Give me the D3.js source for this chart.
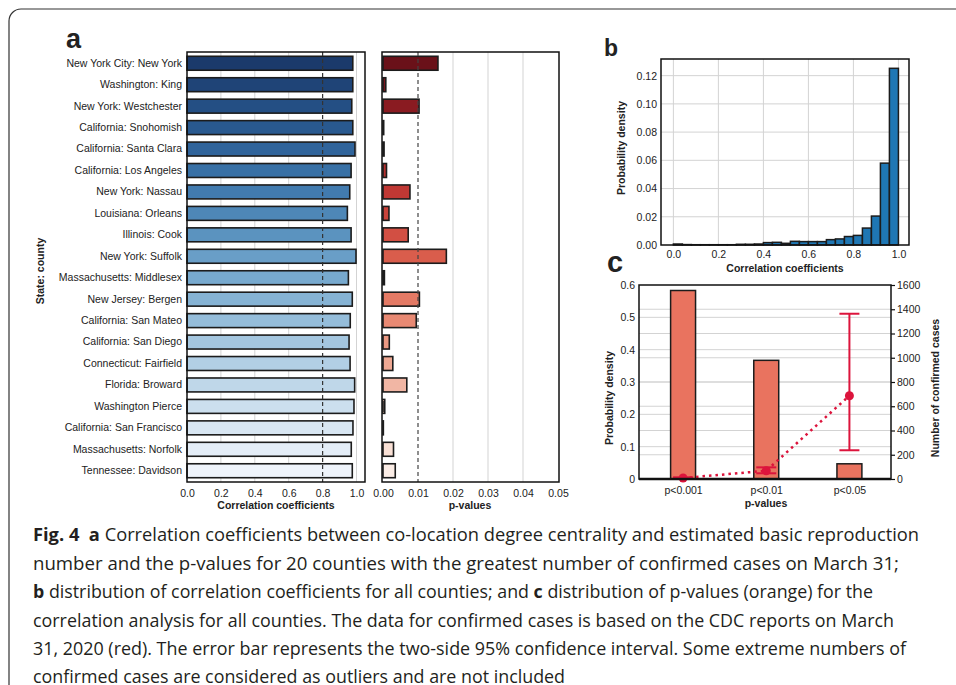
<!DOCTYPE html>
<html>
<head>
<meta charset="utf-8">
<script src="https://cdn.jsdelivr.net/npm/d3@7"></script>
<style>
  body { margin: 0; background: #fff; }
  svg text { font-family: 'Liberation Sans', Arial, sans-serif; fill: #222; }
</style>
</head>
<body>
<div id="fig"></div>
<script>
// ---- data ----

var counties = [
  'New York City: New York', 'Washington: King', 'New York: Westchester',
  'California: Snohomish', 'California: Santa Clara', 'California: Los Angeles',
  'New York: Nassau', 'Louisiana: Orleans', 'Illinois: Cook', 'New York: Suffolk',
  'Massachusetts: Middlesex', 'New Jersey: Bergen', 'California: San Mateo',
  'California: San Diego', 'Connecticut: Fairfield', 'Florida: Broward',
  'Washington Pierce', 'California: San Francisco', 'Massachusetts: Norfolk',
  'Tennessee: Davidson'
]
var corrValues = [0.978, 0.978, 0.972, 0.978, 0.991, 0.968, 0.96, 0.946, 0.968, 0.997,
  0.952, 0.975, 0.963, 0.956, 0.962, 0.989, 0.985, 0.979, 0.969, 0.975]
var pValues = [0.0157, 0.0008, 0.0103, 0.0002, 0.0003, 0.001, 0.0077, 0.0017, 0.0072, 0.0181,
  0.0004, 0.0104, 0.0095, 0.0018, 0.0028, 0.0068, 0.0005, 0.0001, 0.003, 0.0035]
var corrTicks = [0, 0.2, 0.4, 0.6, 0.8, 1.0]
var pTicks = [0, 0.01, 0.02, 0.03, 0.04, 0.05]

// histogram of correlation coefficients (bin starts, bin width 0.04)
var histStart = [0, 0.04, 0.08, 0.12, 0.16, 0.2, 0.24, 0.28, 0.32, 0.36, 0.4, 0.44, 0.48,
  0.52, 0.56, 0.6, 0.64, 0.68, 0.72, 0.76, 0.8, 0.84, 0.88, 0.92, 0.96]
var histDensity = [0.0007, 0.0003, 0.0002, 0.0002, 0.0002, 0.0002, 0.0002, 0.0005, 0.0005,
  0.0007, 0.0017, 0.0019, 0.0012, 0.0026, 0.0024, 0.0024, 0.0024, 0.0038, 0.0043, 0.006,
  0.0068, 0.012, 0.0205, 0.058, 0.1252]
var histWidth = 0.04
var densTicksB = [0, 0.02, 0.04, 0.06, 0.08, 0.1, 0.12]

// p-value groups and confirmed cases
var pGroups = ['p<0.001', 'p<0.01', 'p<0.05']
var pDensity = [0.583, 0.367, 0.047]
var casesMean = [8, 68, 687]
var casesLow = [3, 47, 237]
var casesHigh = [14, 96, 1363]
var densTicksC = [0, 0.1, 0.2, 0.3, 0.4, 0.5, 0.6]
var casesTicks = [0, 200, 400, 600, 800, 1000, 1200, 1400, 1600]

var captionLines = [
  [['Fig. 4  ', true], ['a', true], [' Correlation coefficients between co-location degree centrality and estimated basic reproduction', false]],
  [['number and the p-values for 20 counties with the greatest number of confirmed cases on March 31;', false]],
  [['b', true], [' distribution of correlation coefficients for all counties; and ', false], ['c', true], [' distribution of p-values (orange) for the', false]],
  [['correlation analysis for all counties. The data for confirmed cases is based on the CDC reports on March', false]],
  [['31, 2020 (red). The error bar represents the two-side 95% confidence interval. Some extreme numbers of', false]],
  [['confirmed cases are considered as outliers and are not included', false]]
]

// ---- svg ----

var svg = d3
  .select('#fig')
  .append('svg')
  .attr('width', 956)
  .attr('height', 685)

// rounded box around figure + caption
svg
  .append('rect')
  .attr('x', 9)
  .attr('y', 9)
  .attr('width', 1100)
  .attr('height', 1100)
  .attr('rx', 12)
  .attr('fill', 'none')
  .attr('stroke', '#333')
  .attr('stroke-width', 1.2)

var gridColor = '#d3d3d3'
var edgeColor = '#1c1c1c'

function styleAxis(g, size) {
  g.select('.domain').remove()
  g.attr('font-size', size)
}

function frame(x0, x1, y0, y1) {
  svg
    .append('rect')
    .attr('x', x0)
    .attr('y', y0)
    .attr('width', x1 - x0)
    .attr('height', y1 - y0)
    .attr('fill', 'none')
    .attr('stroke', '#111')
    .attr('stroke-width', 1.5)
}

function boldLabel(text, x, y, rotate) {
  svg
    .append('text')
    .text(text)
    .attr('transform', 'translate(' + x + ',' + y + ')' + (rotate ? ' rotate(-90)' : ''))
    .attr('text-anchor', 'middle')
    .attr('font-size', 10.5)
    .attr('font-weight', 'bold')
}

// ===== PANEL A =====

var aTop = 52
var aBottom = 482

var yBand = d3
  .scaleBand()
  .domain(counties)
  .range([aTop, aBottom])
  .paddingInner(0.35)
  .paddingOuter(0.2)

var xCorr = d3.scaleLinear().domain([0, 1.05]).range([187, 365])
var xP = d3.scaleLinear().domain([0, 0.05]).range([383, 558])

var blueColor = d3.interpolateRgbBasis(['#1b3a6b', '#2f6ba6', '#6ea6cc', '#b9d3e7', '#eff4fb'])
var redColor = d3.interpolateRgbBasis(['#6a1119', '#b8272b', '#e0604a', '#f0ae97', '#fbede6'])

// gridlines
svg
  .selectAll('.grid-corr')
  .data([0.2, 0.4, 0.6, 1.0])
  .enter()
  .append('line')
  .attr('x1', d => xCorr(d))
  .attr('x2', d => xCorr(d))
  .attr('y1', aTop)
  .attr('y2', aBottom)
  .attr('stroke', gridColor)

svg
  .selectAll('.grid-p')
  .data([0.02, 0.03, 0.04])
  .enter()
  .append('line')
  .attr('x1', d => xP(d))
  .attr('x2', d => xP(d))
  .attr('y1', aTop)
  .attr('y2', aBottom)
  .attr('stroke', gridColor)

// correlation bars
svg
  .selectAll('.corr-bar')
  .data(corrValues)
  .enter()
  .append('rect')
  .attr('class', 'corr-bar')
  .attr('x', xCorr(0))
  .attr('y', (d, i) => yBand(counties[i]))
  .attr('width', d => xCorr(d) - xCorr(0))
  .attr('height', yBand.bandwidth())
  .attr('fill', (d, i) => blueColor(i / 19))
  .attr('stroke', edgeColor)
  .attr('stroke-width', 1.6)

// p-value bars
svg
  .selectAll('.p-bar')
  .data(pValues)
  .enter()
  .append('rect')
  .attr('class', 'p-bar')
  .attr('x', xP(0))
  .attr('y', (d, i) => yBand(counties[i]))
  .attr('width', d => xP(d) - xP(0))
  .attr('height', yBand.bandwidth())
  .attr('fill', (d, i) => redColor(i / 19))
  .attr('stroke', edgeColor)
  .attr('stroke-width', 1.6)

// threshold lines
svg
  .append('line')
  .attr('x1', xCorr(0.8))
  .attr('x2', xCorr(0.8))
  .attr('y1', aTop)
  .attr('y2', aBottom)
  .attr('stroke', '#333')
  .attr('stroke-width', 1.2)
  .attr('stroke-dasharray', '4,3')

svg
  .append('line')
  .attr('x1', xP(0.01))
  .attr('x2', xP(0.01))
  .attr('y1', aTop)
  .attr('y2', aBottom)
  .attr('stroke', '#444')
  .attr('stroke-width', 1.2)
  .attr('stroke-dasharray', '4,3')

frame(187, 365, aTop, aBottom)
frame(382, 559, aTop, aBottom)

svg
  .append('g')
  .attr('transform', 'translate(187,0)')
  .call(d3.axisLeft(yBand).tickSize(0).tickPadding(5))
  .call(g => styleAxis(g, 10.5))

svg
  .append('g')
  .attr('transform', 'translate(0,' + aBottom + ')')
  .call(d3.axisBottom(xCorr).tickValues(corrTicks).tickFormat(d3.format('.1f')).tickSize(0).tickPadding(8))
  .call(g => styleAxis(g, 10.5))

svg
  .append('g')
  .attr('transform', 'translate(0,' + aBottom + ')')
  .call(d3.axisBottom(xP).tickValues(pTicks).tickFormat(d3.format('.2f')).tickSize(0).tickPadding(8))
  .call(g => styleAxis(g, 10.5))

boldLabel('Correlation coefficients', 276, 509)
boldLabel('p-values', 470, 509)
boldLabel('State: county', 44, 271, true)

// ===== PANEL B =====

var xB = d3.scaleLinear().domain([-0.055, 1.047]).range([661, 909])
var yB = d3.scaleLinear().domain([0, 0.1318]).range([245, 59])

svg
  .selectAll('.grid-bx')
  .data(corrTicks)
  .enter()
  .append('line')
  .attr('x1', d => xB(d))
  .attr('x2', d => xB(d))
  .attr('y1', 59)
  .attr('y2', 245)
  .attr('stroke', gridColor)

svg
  .selectAll('.grid-by')
  .data(densTicksB.slice(1))
  .enter()
  .append('line')
  .attr('x1', 661)
  .attr('x2', 909)
  .attr('y1', d => yB(d))
  .attr('y2', d => yB(d))
  .attr('stroke', gridColor)

svg
  .selectAll('.hist-bar')
  .data(histDensity)
  .enter()
  .append('rect')
  .attr('class', 'hist-bar')
  .attr('x', (d, i) => xB(histStart[i]))
  .attr('y', d => yB(d))
  .attr('width', xB(histWidth) - xB(0))
  .attr('height', d => yB(0) - yB(d))
  .attr('fill', '#1f77b4')
  .attr('stroke', edgeColor)
  .attr('stroke-width', 1.5)

frame(661, 909, 59, 245)

svg
  .append('g')
  .attr('transform', 'translate(0,245)')
  .call(d3.axisBottom(xB).tickValues(corrTicks).tickFormat(d3.format('.1f')).tickSize(0).tickPadding(6))
  .call(g => styleAxis(g, 10.5))

svg
  .append('g')
  .attr('transform', 'translate(661,0)')
  .call(d3.axisLeft(yB).tickValues(densTicksB).tickFormat(d3.format('.2f')).tickSize(0).tickPadding(4))
  .call(g => styleAxis(g, 10.5))

boldLabel('Correlation coefficients', 785, 272)
boldLabel('Probability density', 625, 148, true)

// ===== PANEL C =====

var cLeft = 639
var cRight = 891

var xC = d3.scaleLinear().domain([-0.53, 2.5]).range([cLeft, cRight])
var yDens = d3.scaleLinear().domain([0, 0.6]).range([479, 285])
var yCases = d3.scaleLinear().domain([0, 1600]).range([479, 285])

svg
  .selectAll('.grid-cl')
  .data(densTicksC.slice(1, -1))
  .enter()
  .append('line')
  .attr('x1', cLeft)
  .attr('x2', cRight)
  .attr('y1', d => yDens(d))
  .attr('y2', d => yDens(d))
  .attr('stroke', gridColor)

svg
  .selectAll('.grid-cr')
  .data(casesTicks.slice(1, -1))
  .enter()
  .append('line')
  .attr('x1', cLeft)
  .attr('x2', cRight)
  .attr('y1', d => yCases(d))
  .attr('y2', d => yCases(d))
  .attr('stroke', gridColor)

var barW = xC(0.3) - xC(0)

svg
  .selectAll('.p-dens')
  .data(pDensity)
  .enter()
  .append('rect')
  .attr('class', 'p-dens')
  .attr('x', (d, i) => xC(i) - barW / 2)
  .attr('y', d => yDens(d))
  .attr('width', barW)
  .attr('height', d => yDens(0) - yDens(d))
  .attr('fill', '#e9735f')
  .attr('stroke', edgeColor)
  .attr('stroke-width', 1.5)

var red = '#dc143c'

var line = d3
  .line()
  .x((d, i) => xC(i))
  .y(d => yCases(d))

svg
  .append('path')
  .datum(casesMean)
  .attr('d', line)
  .attr('fill', 'none')
  .attr('stroke', red)
  .attr('stroke-width', 2.5)
  .attr('stroke-dasharray', '2.5,4')

// error bars
casesMean.forEach((d, i) => {
  var x = xC(i)
  svg
    .append('line')
    .attr('x1', x)
    .attr('x2', x)
    .attr('y1', yCases(casesLow[i]))
    .attr('y2', yCases(casesHigh[i]))
    .attr('stroke', red)
    .attr('stroke-width', 2)
  ;[casesLow[i], casesHigh[i]].forEach(v => {
    svg
      .append('line')
      .attr('x1', x - 10)
      .attr('x2', x + 10)
      .attr('y1', yCases(v))
      .attr('y2', yCases(v))
      .attr('stroke', red)
      .attr('stroke-width', 2)
  })
})

svg
  .selectAll('.case-dot')
  .data(casesMean)
  .enter()
  .append('circle')
  .attr('cx', (d, i) => xC(i))
  .attr('cy', d => yCases(d))
  .attr('r', 4.5)
  .attr('fill', red)

frame(cLeft, cRight, 285, 479)
svg
  .append('line')
  .attr('x1', cLeft)
  .attr('x2', cRight)
  .attr('y1', 479)
  .attr('y2', 479)
  .attr('stroke', '#111')
  .attr('stroke-width', 2.5)

svg
  .append('g')
  .attr('transform', 'translate(' + cLeft + ',0)')
  .call(
    d3.axisLeft(yDens)
      .tickValues(densTicksC)
      .tickFormat(d => (d === 0 ? '0' : d3.format('.1f')(d)))
      .tickSize(0)
      .tickPadding(4)
  )
  .call(g => styleAxis(g, 10.5))

svg
  .append('g')
  .attr('transform', 'translate(' + cRight + ',0)')
  .call(d3.axisRight(yCases).tickValues(casesTicks).tickFormat(d3.format('d')).tickSize(4).tickPadding(2))
  .call(g => styleAxis(g, 10.5))
  .call(g => g.selectAll('.tick line').attr('stroke', '#111').attr('stroke-width', 1.2))

svg
  .append('g')
  .attr('transform', 'translate(0,479)')
  .call(d3.axisBottom(xC).tickValues([0, 1, 2]).tickFormat(i => pGroups[i]).tickSize(0).tickPadding(8))
  .call(g => styleAxis(g, 10.5))

boldLabel('p-values', 766, 507)
boldLabel('Probability density', 613, 398, true)
boldLabel('Number of confirmed cases', 939, 388, true)

// panel letters
svg.append('text').text('a').attr('x', 66).attr('y', 48).attr('font-size', 27).attr('font-weight', 'bold')
svg.append('text').text('b').attr('x', 604).attr('y', 56).attr('font-size', 23).attr('font-weight', 'bold')
svg.append('text').text('c').attr('x', 607).attr('y', 272).attr('font-size', 29).attr('font-weight', 'bold')

// ===== CAPTION =====

var captionBase = [541, 569.5, 598, 626.5, 655, 683]
var captionWidth = [886, 866, 840, 861, 873, 532]

captionLines.forEach((parts, i) => {
  var t = svg
    .append('text')
    .attr('x', 33)
    .attr('y', captionBase[i])
    .attr('textLength', captionWidth[i])
    .attr('lengthAdjust', 'spacingAndGlyphs')
    .style('font-family', "'Open Sans', 'Noto Sans', sans-serif")
    .style('font-size', '18.5px')
    .style('fill', '#231f20')
    .style('white-space', 'pre')
  parts.forEach(p => {
    t.append('tspan')
      .text(p[0])
      .attr('font-weight', p[1] ? 'bold' : 'normal')
  })
})
</script>
</body>
</html>
